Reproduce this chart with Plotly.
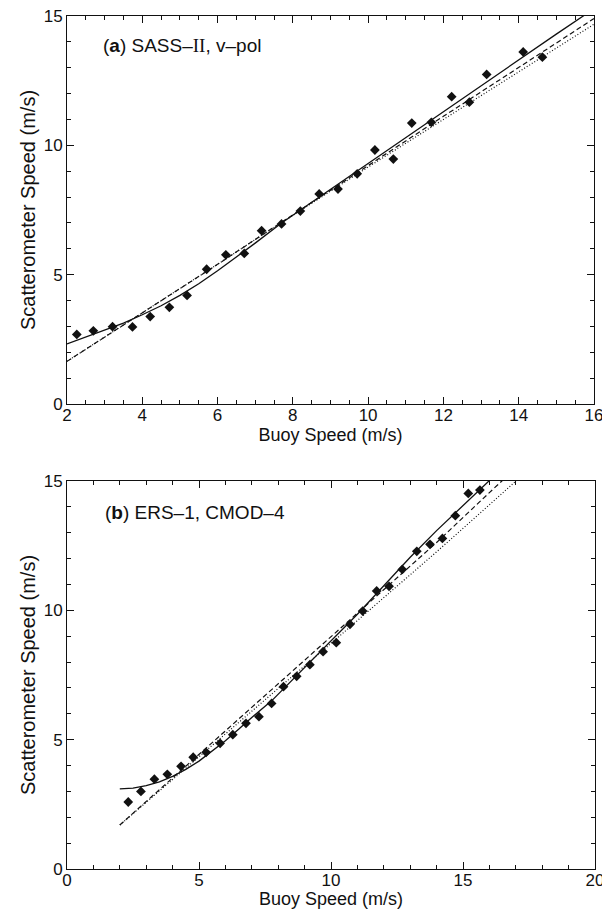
import plotly.graph_objects as go

# ---------------- Panel (a): SASS-II, v-pol ----------------
a_buoy = [2.26, 2.70, 3.21, 3.74, 4.21, 4.72, 5.19, 5.71, 6.22, 6.71, 7.17, 7.70,
          8.20, 8.70, 9.20, 9.71, 10.18, 10.67, 11.16, 11.68, 12.22, 12.69, 13.15,
          14.12, 14.63]
a_scat = [2.69, 2.83, 2.99, 2.98, 3.38, 3.74, 4.20, 5.21, 5.77, 5.82, 6.70, 6.96,
          7.46, 8.12, 8.31, 8.90, 9.82, 9.47, 10.86, 10.89, 11.88, 11.67, 12.74,
          13.61, 13.41]

a_solid_x = [2, 2.5, 3, 3.5, 4, 4.5, 5, 5.5, 6, 6.5, 7, 7.7, 9, 10, 11, 12, 13, 14, 15, 16]
a_solid_y = [2.32, 2.58, 2.85, 3.13, 3.45, 3.80, 4.20, 4.65, 5.15, 5.68, 6.22, 7.00,
             8.30, 9.30, 10.30, 11.30, 12.30, 13.32, 14.30, 15.28]
a_dash_x = [2, 3, 4, 5, 6, 7, 8, 9, 10, 11, 12, 13, 14, 15, 16]
a_dash_y = [1.65, 2.58, 3.52, 4.45, 5.40, 6.36, 7.32, 8.28, 9.22, 10.17, 11.12, 12.06,
            13.02, 13.96, 14.90]
a_dot_x = [2, 3, 4, 5, 6, 7, 8, 9, 10, 11, 12, 13, 14, 15, 16]
a_dot_y = [1.65, 2.58, 3.52, 4.45, 5.40, 6.36, 7.30, 8.24, 9.16, 10.08, 11.00, 11.92,
           12.84, 13.76, 14.68]

# ---------------- Panel (b): ERS-1, CMOD-4 ----------------
b_buoy = [2.32, 2.80, 3.31, 3.80, 4.32, 4.78, 5.27, 5.80, 6.28, 6.78, 7.27, 7.75,
          8.20, 8.70, 9.20, 9.70, 10.20, 10.72, 11.20, 11.73, 12.20, 12.70, 13.25,
          13.75, 14.22, 14.71, 15.20, 15.64]
b_scat = [2.59, 3.00, 3.47, 3.66, 3.97, 4.32, 4.51, 4.86, 5.19, 5.63, 5.89, 6.40,
          7.05, 7.45, 7.90, 8.40, 8.75, 9.46, 9.97, 10.75, 10.93, 11.58, 12.28,
          12.55, 12.78, 13.66, 14.52, 14.65]

b_solid_x = [2, 2.5, 3, 3.5, 4, 4.5, 5, 5.5, 6, 6.5, 7, 7.75, 9, 10, 11, 12, 13, 14, 15, 16, 16.5]
b_solid_y = [3.10, 3.13, 3.22, 3.37, 3.58, 3.85, 4.17, 4.55, 4.96, 5.40, 5.86, 6.50,
             7.80, 8.80, 9.85, 10.95, 12.05, 13.08, 14.05, 15.00, 15.50]
b_dash_x = [2, 4, 6, 8, 10, 12, 14, 16, 17]
b_dash_y = [1.70, 3.52, 5.34, 7.15, 8.97, 10.80, 12.62, 14.55, 15.50]
b_dot_x = [2, 4, 6, 8, 10, 12, 14, 16, 17.5]
b_dot_y = [1.70, 3.47, 5.22, 6.98, 8.72, 10.48, 12.26, 14.08, 15.45]

FONT = "Liberation Sans, Arial, Helvetica, sans-serif"
INK = "#111111"

fig = go.Figure()


def add_panel(xa, ya, bx, by, sx, sy, dx, dy, ox, oy):
    fig.add_trace(go.Scatter(x=sx, y=sy, xaxis=xa, yaxis=ya, mode="lines",
                             line=dict(color=INK, width=1.3), hoverinfo="skip"))
    fig.add_trace(go.Scatter(x=dx, y=dy, xaxis=xa, yaxis=ya, mode="lines",
                             line=dict(color=INK, width=1.2, dash="5px,3px"), hoverinfo="skip"))
    fig.add_trace(go.Scatter(x=ox, y=oy, xaxis=xa, yaxis=ya, mode="lines",
                             line=dict(color=INK, width=1.2, dash="1px,2px"), hoverinfo="skip"))
    fig.add_trace(go.Scatter(x=bx, y=by, xaxis=xa, yaxis=ya, mode="markers",
                             marker=dict(symbol="diamond", size=7.5, color=INK)))


add_panel("x", "y", a_buoy, a_scat, a_solid_x, a_solid_y, a_dash_x, a_dash_y, a_dot_x, a_dot_y)
add_panel("x2", "y2", b_buoy, b_scat, b_solid_x, b_solid_y, b_dash_x, b_dash_y, b_dot_x, b_dot_y)

axis_common = dict(
    showline=True, linecolor=INK, linewidth=1, mirror="ticks",
    ticks="inside", ticklen=7, tickwidth=1, tickcolor=INK,
    showgrid=False, zeroline=False, automargin=False,
    ticklabeloverflow="allow",
    tickfont=dict(family=FONT, size=17, color=INK),
)
x_common = dict(axis_common, ticklabelstandoff=-4)
y_common = dict(axis_common, ticklabelstandoff=0)

# The page adds an 8 px body margin, so the figure is 8 px smaller than the window.
fig.update_layout(
    width=602, height=901,
    margin=dict(l=59, r=15, t=8, b=40),
    paper_bgcolor="white", plot_bgcolor="white",
    showlegend=False,
    font=dict(family=FONT, color=INK),
    xaxis=dict(x_common, domain=[0, 0.998], range=[2, 16], tick0=2, dtick=2,
               minor=dict(dtick=0.5, ticklen=4, tickcolor=INK, ticks="inside"),
               anchor="y",
               title=dict(text="Buoy Speed (m/s)", standoff=2,
                          font=dict(family=FONT, size=18, color=INK))),
    yaxis=dict(y_common, domain=[0.5451, 1], range=[0, 15], tick0=0, dtick=5,
               minor=dict(dtick=1, ticklen=4, tickcolor=INK, ticks="inside"),
               anchor="x",
               title=dict(text="Scatterometer Speed (m/s)", standoff=2,
                          font=dict(family=FONT, size=20, color=INK))),
    xaxis2=dict(x_common, domain=[0, 1], range=[0, 20], tick0=0, dtick=5,
                minor=dict(dtick=1, ticklen=4, tickcolor=INK, ticks="inside"),
                anchor="y2",
                title=dict(text="Buoy Speed (m/s)", standoff=2,
                           font=dict(family=FONT, size=18, color=INK))),
    yaxis2=dict(y_common, domain=[0, 0.4549], range=[0, 15], tick0=0, dtick=5,
                minor=dict(dtick=1, ticklen=4, tickcolor=INK, ticks="inside"),
                anchor="x2",
                title=dict(text="Scatterometer Speed (m/s)", standoff=2,
                           font=dict(family=FONT, size=20, color=INK))),
    annotations=[
        dict(text="(<b>a</b>) SASS–<span style='font-family:Liberation Serif'>II</span>, v–pol",
             x=2.90, y=13.85, xref="x", yref="y", xanchor="left", yanchor="middle",
             showarrow=False, font=dict(family=FONT, size=19, color=INK)),
        dict(text="(<b>b</b>) ERS–1, CMOD–4",
             x=1.37, y=13.8, xref="x2", yref="y2", xanchor="left", yanchor="middle",
             showarrow=False, font=dict(family=FONT, size=19, color=INK)),
    ],
)

fig.write_html("out.html")
